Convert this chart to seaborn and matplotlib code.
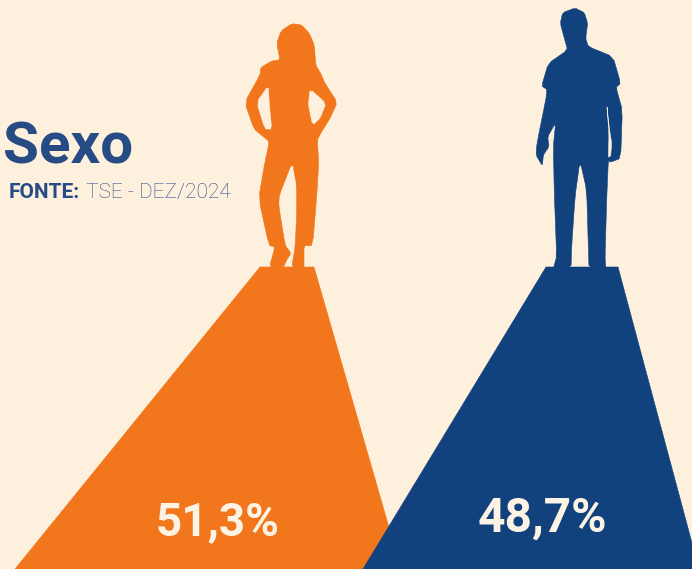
import matplotlib
matplotlib.use('Agg')
import matplotlib.pyplot as plt
import seaborn as sns

# values and labels
categories = ['Feminino', 'Masculino']
shares = [51.3, 48.7]
share_labels = ['51,3%', '48,7%']
title = 'Sexo'
source_head = 'FONTE:'
source_text = 'TSE - DEZ/2024'

# colours
BG = '#FDF0DC'
palette = sns.color_palette(['#F2761B', '#11427E'])
TITLE_BLUE = '#274B85'
LIGHT_BLUE = '#2A4D8C'
LABEL = '#FDF3E4'

# silhouettes (pixels of a 3x crop + crop offset)
woman_zoom = [(185, 26), (215, 30), (238, 55), (253, 90), (257, 150), (272, 175), (285, 205), (322, 262),
              (300, 310), (272, 355), (262, 375), (266, 440), (262, 520), (248, 692), (222, 692), (222, 745),
              (222, 757), (185, 757), (195, 700), (200, 600), (200, 510), (187, 440), (148, 540), (146, 570),
              (165, 690), (183, 715), (170, 735), (160, 757), (118, 757), (135, 695), (117, 692), (86, 550),
              (105, 440), (118, 380), (100, 365), (72, 342), (44, 262), (90, 180), (92, 158), (125, 138),
              (150, 135), (140, 85), (153, 48)]
woman_holes_zoom = [[(115, 212), (80, 262), (105, 342), (125, 342), (118, 270)],
                    [(240, 222), (288, 265), (270, 310), (248, 330), (235, 270)]]
man_zoom = [(150, 24), (178, 38), (188, 70), (182, 115), (190, 140), (264, 170), (287, 250), (273, 262),
            (292, 330), (287, 475), (255, 487), (250, 480), (245, 600), (240, 775), (243, 805), (192, 805),
            (190, 740), (185, 570), (165, 482), (150, 590), (140, 740), (138, 805), (85, 805), (95, 770),
            (88, 580), (85, 440), (92, 368), (68, 410), (72, 440), (55, 465), (52, 498), (33, 465), (36, 430),
            (68, 270), (50, 258), (70, 190), (128, 150), (118, 115), (106, 70), (113, 38)]
man_holes_zoom = [[(245, 310), (252, 400), (250, 472), (257, 468), (260, 430), (253, 385)]]


def from_zoom(points, x0, y0):
    """Crop coordinates back to picture pixels."""
    return [(x0 + x / 3, y0 + y / 3) for x, y in points]


def soften(points, rounds=1):
    """Corner cutting, so the traced outlines do not look faceted."""
    for _ in range(rounds):
        out = []
        for i, (x1, y1) in enumerate(points):
            x2, y2 = points[(i + 1) % len(points)]
            out.append((0.85 * x1 + 0.15 * x2, 0.85 * y1 + 0.15 * y2))
            out.append((0.15 * x1 + 0.85 * x2, 0.15 * y1 + 0.85 * y2))
        points = out
    return points


def draw_shape(ax, points, color, z):
    xs = [p[0] for p in points] + [points[0][0]]
    ys = [p[1] for p in points] + [points[0][1]]
    ax.fill(xs, ys, color=color, lw=0, zorder=z)
    sns.lineplot(x=xs, y=ys, sort=False, estimator=None, color=color, lw=0.4, ax=ax, legend=False, zorder=z)


sns.set_theme(style='white', rc={'figure.facecolor': BG, 'axes.facecolor': BG})
plt.rcParams['font.family'] = ['Roboto', 'DejaVu Sans']

fig = plt.figure(figsize=(6.92, 5.69), dpi=100)
ax = fig.add_axes([0, 0, 1, 1])

# pedestals, the blue one overlaps the orange one
draw_shape(ax, [(260, 267), (314, 267), (401, 569), (15, 569)], palette[0], 1)
draw_shape(ax, [(546, 267), (618, 267), (699, 569), (363, 569)], palette[1], 2)

draw_shape(ax, soften(from_zoom(woman_zoom, 230, 15)), palette[0], 3)
for hole in woman_holes_zoom:
    draw_shape(ax, soften(from_zoom(hole, 230, 15)), BG, 4)
draw_shape(ax, soften(from_zoom(man_zoom, 525, 0)), palette[1], 3)
for hole in man_holes_zoom:
    draw_shape(ax, soften(from_zoom(hole, 525, 0)), BG, 4)

ax.set_xlim(0, 692)
ax.set_ylim(569, 0)
ax.axis('off')

ax.text(3, 163, title, fontsize=42, fontweight='bold', color=TITLE_BLUE, va='baseline', zorder=5)
ax.text(9, 198, source_head, fontsize=15, fontweight='bold', color=TITLE_BLUE, va='baseline', zorder=5)
ax.text(86, 198, source_text, fontsize=15, fontweight='light', color=LIGHT_BLUE, va='baseline', zorder=5)

ax.text(218, 535, share_labels[0], fontsize=33, fontweight='bold', color=LABEL, ha='center', va='baseline', zorder=5)
ax.text(542, 532, share_labels[1], fontsize=34.5, fontweight='bold', color=LABEL, ha='center', va='baseline', zorder=5)

fig.savefig('out.png', dpi=100, facecolor=BG)
